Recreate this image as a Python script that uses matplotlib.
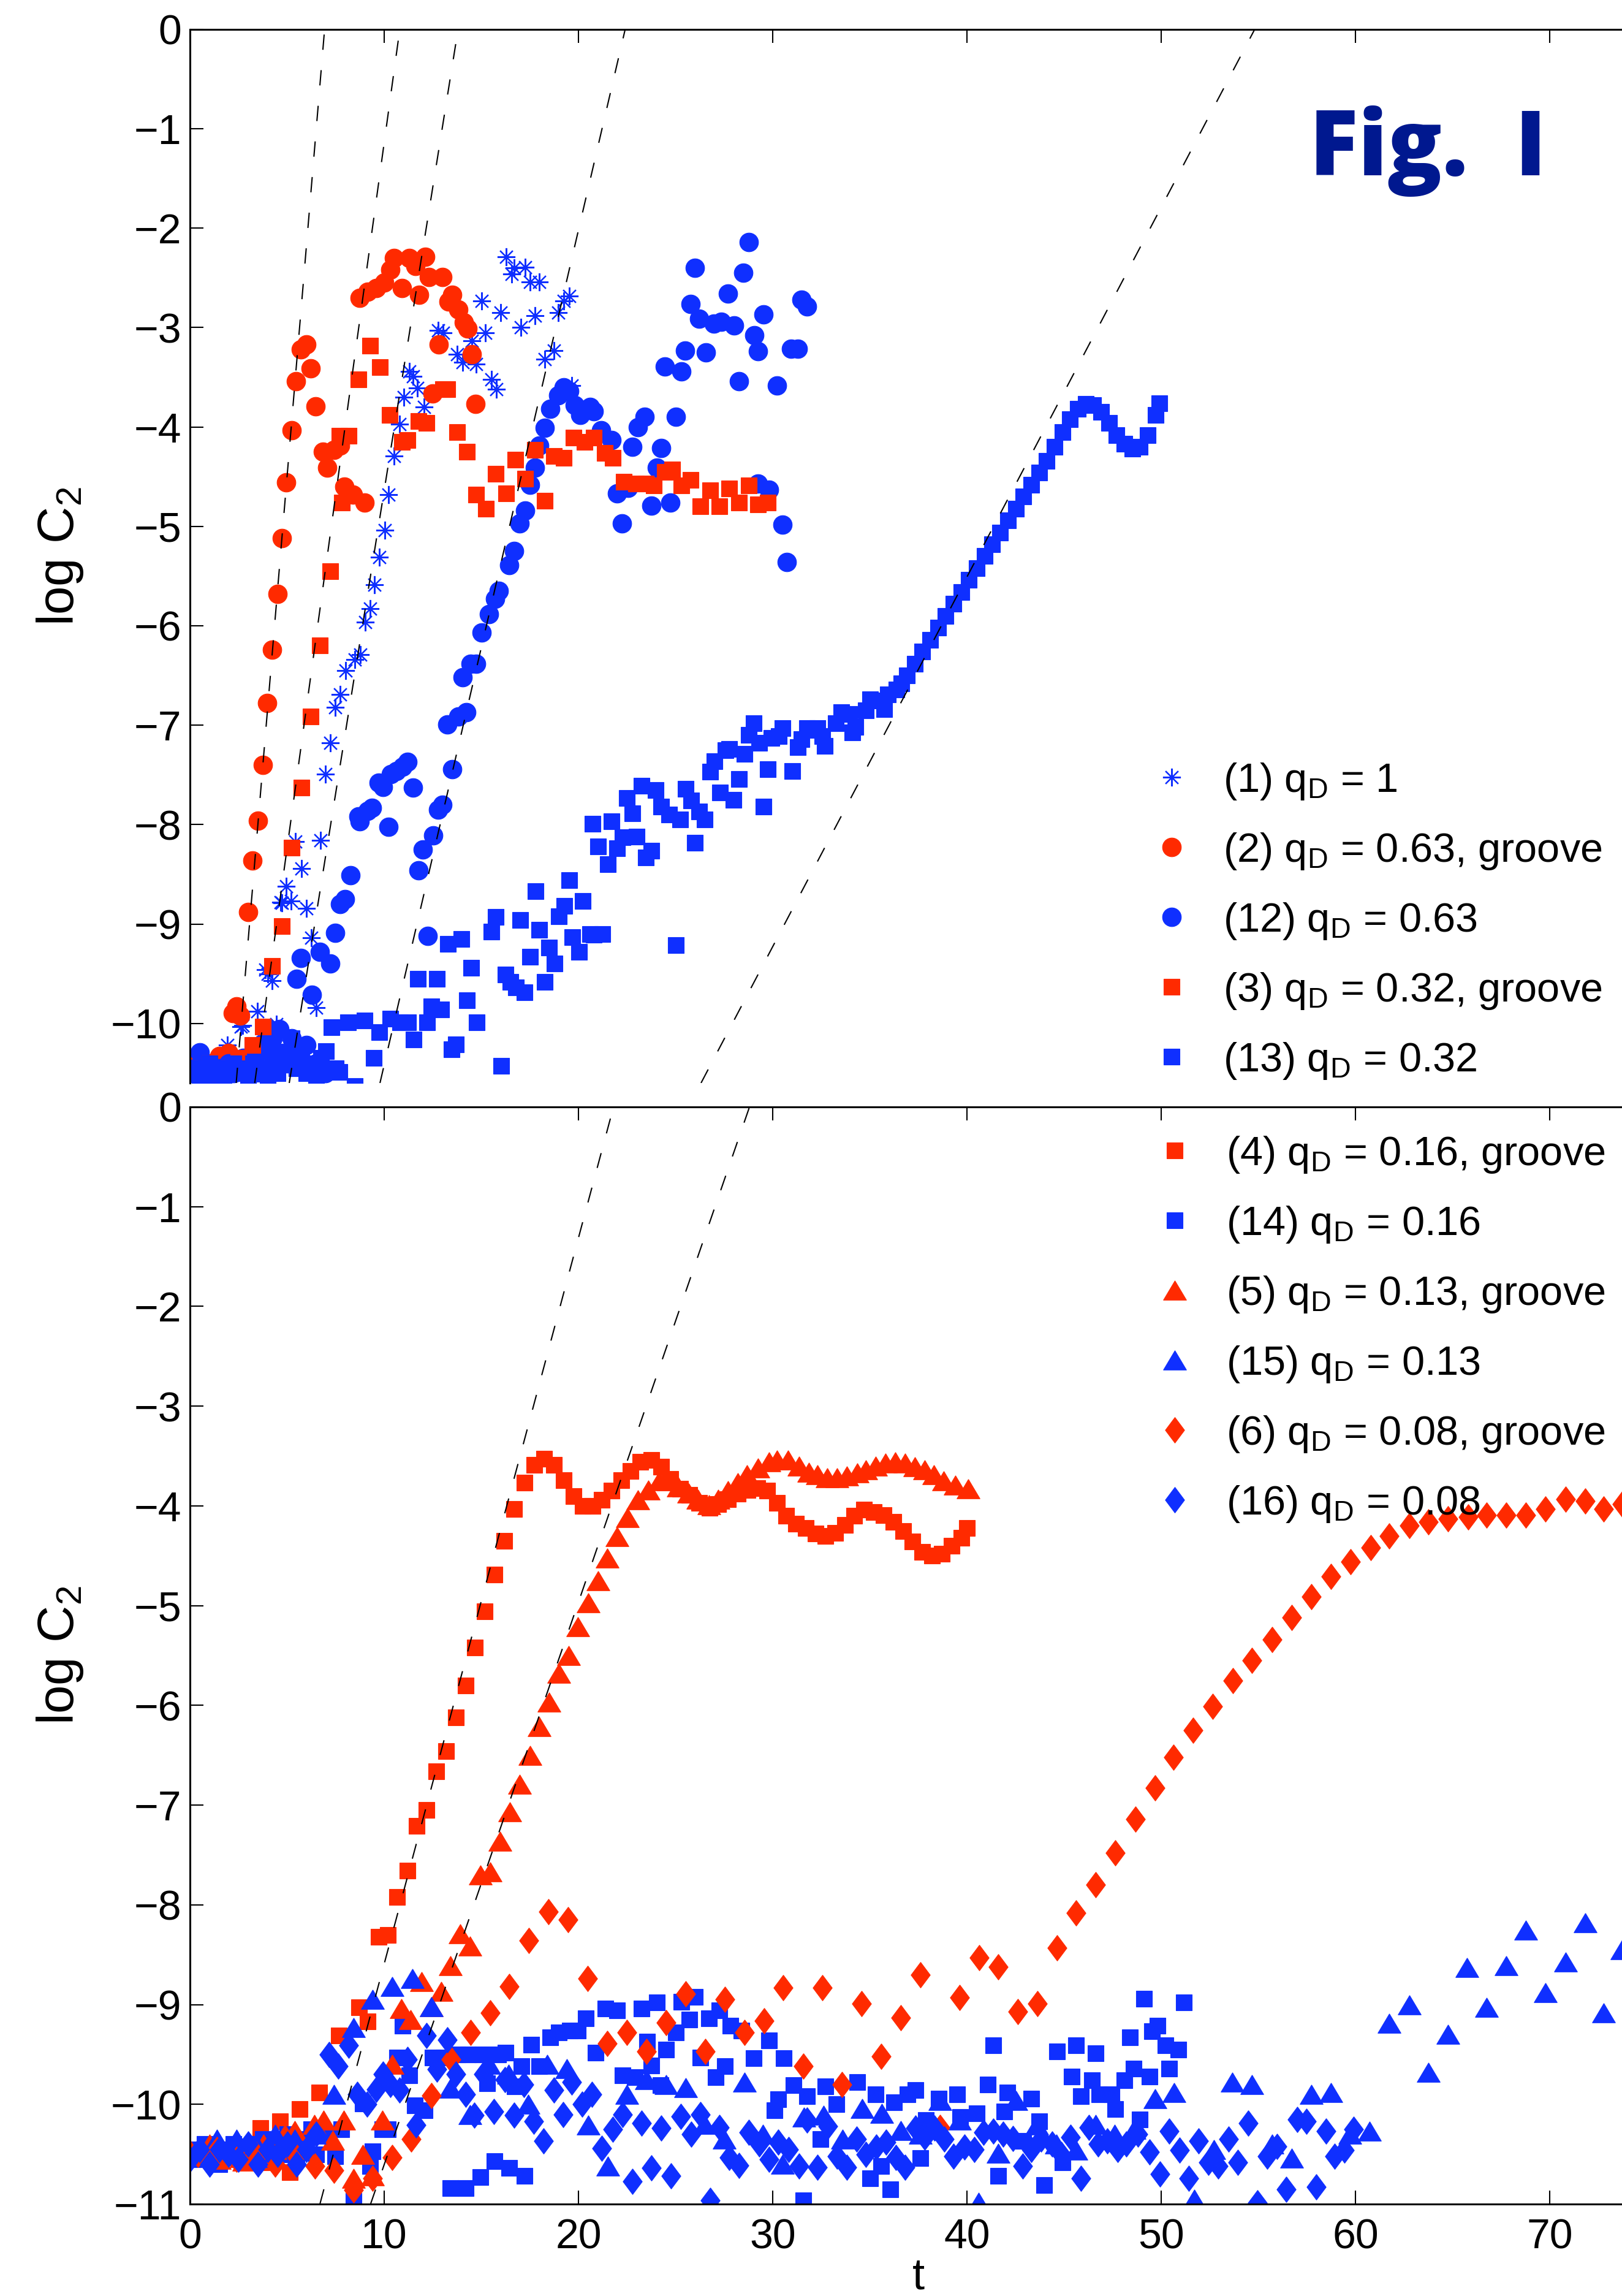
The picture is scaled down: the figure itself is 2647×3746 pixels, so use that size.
import matplotlib
matplotlib.use('Agg')
import matplotlib.pyplot as plt

plt.rcParams['font.family'] = ['Liberation Sans', 'DejaVu Sans']
plt.rcParams['mathtext.fontset'] = 'custom'
plt.rcParams['mathtext.rm'] = 'Liberation Sans'
plt.rcParams['mathtext.it'] = 'Liberation Sans:italic'
plt.rcParams['lines.scale_dashes'] = False

RED = '#FF2A00'
BLUE = '#0F2FFF'
NAVY = '#00188F'

# ---------------- top panel data ----------------
# (1) q_D = 1  (blue asterisks)
t1 = [0.5, 1.0, 1.5, 1.91, 2.3, 2.61, 2.71, 3.18, 3.46, 3.87, 4.02, 4.22, 4.45, 4.68, 4.73, 4.95, 5.22,
      5.43, 5.74, 5.99, 6.25, 6.49, 6.73, 6.98, 7.21, 7.46, 7.74, 8.02, 8.47, 8.76, 9.01, 9.26, 9.49, 9.74,
      10.02, 10.22, 10.5, 10.78, 11.01, 11.29, 11.49, 11.71, 12.05, 12.76, 13.04, 13.74, 14.02, 14.5, 14.73,
      15.01, 15.2, 15.52, 15.77, 15.99, 16.28, 16.56, 16.7, 17.04, 17.26, 17.49, 17.77, 17.97, 18.25, 18.73,
      18.95, 19.23, 19.52, 19.66]
y1 = [-10.45, -10.4, -10.5, -10.22, -10.35, -10.03, -10.02, -10.58, -9.88, -9.46, -9.5, -9.57, -10.01, -8.78, -8.79,
      -8.62, -8.77, -8.17, -8.44, -8.84, -9.14, -9.84, -8.16, -7.49, -7.18, -6.82, -6.69, -6.45, -6.34, -6.29, -5.96,
      -5.83, -5.59, -5.31, -5.04, -4.68, -4.29, -3.97, -3.70, -3.44, -3.49, -3.61, -3.80, -3.03, -3.05, -3.27,
      -3.35, -3.13, -3.37, -2.73, -3.05, -3.52, -3.62, -2.85, -2.29, -2.46, -2.40, -3.0, -2.39, -2.54, -2.88,
      -2.54, -3.32, -3.23, -2.85, -2.73, -2.68, -3.58]

# (2) q_D = 0.63, groove  (red circles)
t2 = [0.0, 0.25, 0.5, 0.75, 1.0, 1.25, 1.5, 1.75, 2.0, 2.2, 2.4, 2.6, 3.0, 3.23, 3.51, 3.76, 3.97, 4.23, 4.5,
      4.73, 4.95, 5.24, 5.46, 5.71, 6.0, 6.21, 6.47, 6.84, 7.05, 7.4, 7.74, 7.96, 8.39, 9.0, 8.73, 9.15, 9.6,
      10.0, 10.3, 10.5, 10.9, 11.3, 11.6, 11.8, 12.1, 12.3, 13.0, 13.3, 13.5, 13.8, 14.1, 14.3, 12.8, 14.5,
      12.5, 14.7]
y2 = [-10.42, -10.5, -10.38, -10.45, -10.4, -10.5, -10.33, -10.45, -10.3, -9.9, -9.83, -9.92, -8.88, -8.36, -7.96,
      -7.40, -6.78, -6.24, -5.68, -5.12, -4.56, -4.03, -3.54, -3.22, -3.17, -3.41, -3.79, -4.25, -4.41, -4.23,
      -4.19, -4.6, -4.68, -4.76, -2.70, -2.64, -2.6, -2.55, -2.42, -2.30, -2.6, -2.3, -2.38, -2.67, -2.29, -2.49,
      -2.49, -2.74, -2.67, -2.82, -2.95, -3.01, -3.17, -3.27, -3.66, -3.77]

# (12) q_D = 0.63  (blue circles)
t12 = [0.0, 0.25, 0.5, 0.75, 1.0, 1.25, 1.5, 1.75, 2.0, 2.25, 2.5, 2.75, 3.0, 3.25, 3.5, 3.75, 4.02, 4.25, 4.45,
       4.59, 4.8, 5.0, 5.25, 5.49, 5.57, 5.71, 6.0, 6.28, 6.5, 6.7, 6.98, 7.21, 7.46, 7.74, 7.97, 8.25, 8.67,
       8.73, 9.15, 9.38, 9.71, 9.94, 10.22, 10.36, 10.64, 10.93, 11.21, 11.49, 11.77, 12.0, 12.25, 12.53, 12.76,
       12.98, 13.26, 13.49, 13.83, 14.02, 14.22, 14.45, 14.73, 15.01, 15.38, 15.71, 15.91, 16.42, 16.7, 16.98,
       17.26, 17.49, 17.77, 17.97, 18.25, 18.53, 18.95, 19.23, 19.52, 19.8, 20.08, 20.59, 20.78, 21.15, 21.71,
       21.99, 22.25, 22.56, 22.76, 23.04, 23.4, 23.74, 24.02, 24.25, 24.45, 24.73, 25.01, 25.29, 25.49, 25.77,
       25.99, 26.22, 26.56, 26.98, 27.35, 27.69, 28.02, 28.25, 28.47, 28.76, 29.04, 29.24, 29.24, 29.52, 29.8,
       30.22, 30.5, 30.73, 30.93, 31.29, 31.49, 31.77]
y12 = [-10.5, -10.45, -10.29, -10.5, -10.45, -10.55, -10.45, -10.5, -10.4, -10.5, -10.45, -10.35, -10.4, -10.5,
       -10.3, -10.2, -10.06, -10.15, -10.29, -10.06, -10.3, -10.4, -10.15, -9.55, -10.24, -9.34, -10.22, -9.71,
       -10.4, -9.28, -10.5, -9.40, -9.09, -8.80, -8.75, -8.51, -7.92, -7.97, -7.86, -7.83, -7.58, -7.62, -8.02,
       -7.49, -7.46, -7.42, -7.37, -7.63, -8.46, -8.25, -9.12, -8.11, -7.85, -7.80, -6.99, -7.44, -6.91, -6.52,
       -6.87, -6.38, -6.38, -6.07, -5.88, -5.73, -5.65, -5.39, -5.25, -4.97, -4.84, -4.58, -4.41, -4.19, -4.01,
       -3.82, -3.68, -3.60, -3.64, -3.78, -3.88, -3.80, -3.84, -4.03, -4.13, -4.67, -4.97, -4.61, -4.2, -4.0, -3.9,
       -4.79, -4.41, -4.21, -3.39, -4.76, -3.9, -3.44, -3.23, -2.76, -2.40, -2.91, -3.25, -2.96, -2.94, -2.66,
       -2.98, -3.54, -2.45, -2.14, -3.08, -3.24, -4.57, -2.87, -4.63, -3.58, -4.98, -5.36, -3.21, -3.21, -2.72,
       -2.79]

# (3) q_D = 0.32, groove  (red squares)
t3 = [0.0, 0.5, 1.0, 1.5, 2.0, 2.5, 3.23, 3.74, 4.22, 4.73, 5.23, 5.74, 6.22, 6.7, 7.21, 7.69, 7.83, 8.16, 8.67,
      9.26, 9.77, 10.28, 10.92, 11.21, 11.77, 12.19, 13.04, 13.26, 13.74, 14.25, 14.73, 15.23, 15.74, 16.28,
      16.76, 17.26, 17.77, 18.25, 18.73, 19.23, 19.74, 20.3, 20.78, 21.35, 21.77, 22.33, 22.95, 23.46, 23.88,
      24.45, 24.81, 25.29, 25.77, 26.28, 26.78, 27.26, 27.74, 28.25, 28.76, 29.24, 29.74]
y3 = [-10.45, -10.5, -10.4, -10.5, -10.45, -10.35, -10.22, -10.03, -9.42, -9.02, -8.23, -7.63, -6.91, -6.2, -5.45,
      -4.09, -4.76, -4.09, -3.52, -3.18, -3.40, -3.88, -4.15, -4.13, -3.94, -3.96, -3.62, -3.62, -4.05, -4.25,
      -4.68, -4.82, -4.47, -4.67, -4.33, -4.52, -4.23, -4.74, -4.29, -4.31, -4.11, -4.15, -4.11, -4.26, -4.31,
      -4.55, -4.57, -4.57, -4.59, -4.45, -4.43, -4.59, -4.53, -4.80, -4.64, -4.80, -4.62, -4.76, -4.59, -4.78,
      -4.76]

# (13) q_D = 0.32  (blue squares)
t13 = [0.0, 0.25, 0.5, 0.75, 1.0, 1.25, 1.5, 1.75, 2.0, 2.25, 2.5, 2.75, 3.0, 3.25, 3.5, 3.75, 4.0, 4.25, 4.5,
       4.75, 5.0, 5.25, 5.5, 5.75, 6.0, 6.25, 6.5, 6.75, 7.01, 7.29, 7.5, 7.71, 8.13, 8.48, 8.98, 9.47, 9.75,
       10.32, 10.81, 11.23, 11.51, 11.72, 12.22, 12.43, 12.71, 12.92, 13.27, 13.48, 13.69, 13.98, 14.26, 14.47,
       14.75, 15.52, 15.74, 16.02, 16.23, 16.51, 16.79, 17.0, 17.21, 17.5, 17.78, 17.99, 18.27, 18.48, 18.76,
       18.98, 19.26, 19.53, 19.68, 20.03, 20.23, 20.58, 20.72, 20.8, 21.0, 21.23, 21.5, 21.71, 21.99, 22.27,
       22.48, 22.76, 22.98, 23.26, 23.47, 23.75, 23.96, 24.24, 24.66, 25.02, 25.23, 25.51, 25.79, 26.0, 26.21,
       26.5, 26.78, 26.99, 27.27, 27.55, 27.76, 27.97, 28.26, 28.54, 28.75, 29.03, 29.31, 29.52, 29.73, 29.94,
       30.3, 30.51, 30.99, 31.28, 31.49, 31.77, 31.99, 32.31, 32.55, 32.69, 33.25, 33.53, 33.94, 34.08, 34.24,
       34.8, 35.01, 35.57, 35.72, 35.93, 36.38, 36.63, 36.9, 37.3, 37.7, 38.1, 38.5, 38.9, 39.3, 39.7, 40.1,
       40.5, 40.9, 41.3, 41.7, 42.1, 42.5, 42.9, 43.3, 43.7, 44.1, 44.5, 44.9, 45.3, 45.7, 46.1, 46.5, 46.9,
       47.3, 47.7, 48.1, 48.5, 48.9, 49.3, 49.7, 49.9]
y13 = [-10.5, -10.45, -10.55, -10.5, -10.4, -10.5, -10.45, -10.55, -10.5, -10.4, -10.5, -10.45, -10.55, -10.4,
       -10.5, -10.45, -10.55, -10.35, -10.5, -10.4, -10.3, -10.15, -10.45, -10.3, -10.5, -10.4, -10.55, -10.35,
       -10.28, -10.04, -10.45, -10.49, -9.99, -10.63, -9.97, -10.35, -10.09, -9.95, -9.99, -9.99, -10.16, -9.55,
       -9.99, -9.83, -9.55, -9.86, -9.2, -10.26, -10.21, -9.15, -9.77, -9.44, -9.99, -9.08, -8.93, -10.43, -9.51,
       -9.58, -9.64, -8.96, -9.69, -9.33, -8.67, -9.06, -9.58, -9.24, -9.40, -8.92, -8.82, -8.56, -9.13, -9.28,
       -8.77, -9.1, -7.99, -9.11, -8.22, -9.1, -8.4, -7.97, -8.24, -8.13, -7.73, -7.89, -8.12, -7.61, -8.33, -8.26,
       -7.65, -7.82, -7.90, -9.21, -7.95, -7.64, -7.76, -8.18, -7.87, -7.95, -7.47, -7.36, -7.68, -7.25, -7.24,
       -7.75, -7.54, -7.29, -7.1, -6.98, -7.18, -7.82, -7.44, -7.13, -7.11, -7.03, -7.46, -7.22, -7.14, -7.03,
       -7.05, -7.03, -7.11, -7.21, -6.98, -6.87, -6.89, -7.07, -7.02, -6.85, -6.74, -6.75, -6.84, -6.69, -6.64,
       -6.58, -6.50, -6.38, -6.26, -6.14, -6.02, -5.90, -5.78, -5.66, -5.54, -5.42, -5.30, -5.18, -5.06, -4.94,
       -4.82, -4.70, -4.58, -4.46, -4.34, -4.20, -4.05, -3.92, -3.82, -3.77, -3.78, -3.85, -3.96, -4.08, -4.17,
       -4.22, -4.20, -4.08, -3.88, -3.76]

# dashed exponential-growth fits: log C2 = slope * (t - t_zero)
top_fit_tzero = [6.93, 10.8, 13.8, 22.4, 54.8]
top_fit_slope = [2.33, 1.42, 1.22, 0.84, 0.372]

# ---------------- bottom panel data ----------------
# (4) q_D = 0.16, groove  (red squares)
t4 = [0.0, 0.5, 1.0, 1.5, 2.0, 2.5, 3.0, 3.63, 4.13, 4.64, 5.15, 5.64, 6.65, 7.68, 8.7, 9.16, 9.71, 10.18, 10.67,
      11.19, 11.66, 12.17, 12.67, 13.18, 13.68, 14.19, 14.67, 15.18, 15.69, 16.19, 16.7, 17.21, 17.71, 18.22,
      18.73, 19.23, 19.74, 20.22, 20.73, 21.21, 21.71, 22.19, 22.67, 23.18, 23.74, 24.25, 24.73, 25.24, 25.71,
      26.22, 26.73, 27.2, 27.7, 28.2, 28.7, 29.2, 29.7, 30.2, 30.7, 31.2, 31.7, 32.2, 32.7, 33.2, 33.7, 34.2,
      34.7, 35.2, 35.7, 36.2, 36.7, 37.2, 37.7, 38.2, 38.7, 39.2, 39.7, 40.0]
y4 = [-10.5, -10.45, -10.42, -10.5, -10.45, -10.55, -10.45, -10.24, -10.58, -10.17, -10.68, -10.05, -9.88, -9.31,
      -9.03, -9.17, -8.32, -8.30, -7.92, -7.66, -7.21, -7.05, -6.66, -6.46, -6.12, -5.80, -5.42, -5.06, -4.69,
      -4.35, -4.03, -3.77, -3.59, -3.53, -3.59, -3.74, -3.90, -4.0, -4.0, -3.94, -3.85, -3.74, -3.65, -3.56,
      -3.54, -3.61, -3.73, -3.83, -3.89, -3.97, -4.02, -3.98, -3.93, -3.88, -3.84, -3.82, -3.85, -3.97, -4.1,
      -4.18, -4.22, -4.28, -4.3, -4.27, -4.19, -4.1, -4.04, -4.06, -4.09, -4.16, -4.25, -4.36, -4.46, -4.5,
      -4.48, -4.4, -4.32, -4.22]

# (14) q_D = 0.16  (blue squares)
t14 = [0.0, 0.25, 0.5, 0.75, 1.0, 1.25, 1.5, 1.75, 2.0, 2.25, 2.5, 2.75, 3.0, 3.25, 3.5, 3.75, 4.0, 4.25, 4.5,
       4.75, 5.0, 5.25, 5.5, 5.75, 6.0, 6.25, 6.5, 6.75, 7.12, 7.46, 7.8, 8.42, 8.9, 9.26, 9.4, 9.89, 10.2, 10.67,
       10.95, 11.3, 11.58, 12.08, 12.5, 13.06, 13.41, 13.77, 14.19, 14.33, 14.96, 15.03, 15.31, 15.67, 15.88,
       16.23, 16.44, 16.72, 17.07, 17.21, 17.57, 17.99, 18.55, 18.98, 19.54, 19.96, 20.38, 20.88, 21.37, 21.98,
       22.26, 22.9, 23.25, 23.53, 23.74, 24.02, 24.23, 24.52, 25.01, 25.29, 25.71, 26.0, 26.28, 26.7, 27.05,
       27.26, 27.54, 27.82, 28.39, 29.02, 29.8, 30.08, 30.29, 30.57, 31.06, 31.56, 31.77, 32.45, 32.72, 33.26,
       34.35, 35.02, 35.29, 35.57, 36.06, 36.24, 36.92, 37.33, 37.6, 37.89, 38.55, 39.5, 39.65, 40.5, 41.07,
       41.34, 41.61, 41.93, 42.07, 42.88, 43.29, 43.7, 43.97, 44.64, 44.92, 45.38, 45.59, 45.86, 46.41, 46.62,
       46.81, 47.44, 47.63, 48.11, 48.39, 48.57, 48.9, 49.12, 49.39, 49.52, 49.79, 50.2, 50.39, 50.88, 51.15]
y14 = [-10.5, -10.45, -10.55, -10.4, -10.5, -10.45, -10.6, -10.45, -10.5, -10.4, -10.5, -10.45, -10.55, -10.4,
       -10.5, -10.35, -10.45, -10.55, -10.4, -10.5, -10.3, -10.45, -10.5, -10.35, -10.4, -10.25, -10.5, -10.3,
       -10.31, -10.52, -10.25, -10.97, -9.99, -10.62, -10.47, -10.25, -10.25, -9.53, -9.21, -9.71, -10.01,
       -10.06, -9.53, -9.53, -10.84, -9.5, -10.84, -9.5, -10.73, -9.5, -9.79, -10.57, -9.5, -9.48, -10.64, -9.82,
       -9.62, -10.72, -9.4, -9.62, -9.33, -9.28, -9.26, -9.26, -9.14, -9.48, -9.04, -9.06, -9.71, -9.73, -9.04,
       -9.37, -9.61, -8.98, -9.81, -9.45, -9.28, -8.97, -9.15, -8.92, -9.53, -9.14, -9.73, -9.06, -9.62, -9.21,
       -9.26, -9.54, -9.36, -10.06, -9.95, -9.54, -9.81, -10.96, -9.92, -10.35, -9.82, -10.0, -9.78, -10.74,
       -9.9, -10.62, -10.85, -9.98, -9.9, -9.86, -10.54, -10.16, -9.94, -9.9, -10.13, -10.09, -9.8, -9.41,
       -10.72, -10.07, -9.88, -10.37, -9.94, -10.17, -10.81, -9.47, -10.58, -9.72, -9.41, -9.92, -9.76, -9.49,
       -9.9, -9.9, -10.05, -9.76, -9.33, -9.64, -10.15, -8.94, -9.72, -9.27, -9.21, -9.41, -9.64, -9.45, -8.98]

# (5) q_D = 0.13, groove  (red triangles)
t5 = [0.0, 0.5, 1.0, 1.5, 2.0, 2.78, 3.3, 3.8, 4.4, 4.9, 5.39, 5.9, 6.4, 6.87, 7.36, 7.92, 8.41, 8.9, 9.4, 9.89,
      10.4, 10.88, 11.37, 11.93, 12.43, 12.92, 13.41, 13.9, 14.4, 14.96, 15.45, 15.95, 16.45, 16.98, 17.49,
      17.97, 18.47, 19.0, 19.5, 19.97, 20.5, 21.01, 21.49, 21.99, 22.53, 23.04, 23.6, 24.16, 24.64, 25.15,
      25.66, 26.14, 26.7, 27.18, 27.69, 28.19, 28.67, 29.24, 29.8, 30.22, 30.78, 31.35, 31.85, 32.31, 32.8,
      33.3, 33.8, 34.35, 34.8, 35.3, 35.8, 36.3, 36.8, 37.3, 37.8, 38.3, 38.8, 39.4, 40.04]
y5 = [-10.45, -10.5, -10.4, -10.55, -10.5, -10.57, -10.5, -10.4, -10.45, -10.3, -10.26, -10.45, -10.2, -10.16,
      -10.36, -10.16, -10.74, -10.5, -10.72, -10.16, -9.6, -9.04, -9.15, -8.77, -9.02, -8.87, -8.61, -8.29, -8.41,
      -7.70, -7.67, -7.36, -7.07, -6.79, -6.50, -6.21, -5.97, -5.68, -5.5, -5.21, -4.97, -4.75, -4.52, -4.31,
      -4.12, -3.94, -3.84, -3.75, -3.75, -3.81, -3.87, -3.93, -3.99, -3.93, -3.85, -3.77, -3.69, -3.62, -3.56,
      -3.54, -3.54, -3.6, -3.66, -3.69, -3.72, -3.72, -3.70, -3.67, -3.64, -3.6, -3.57, -3.56, -3.57, -3.61,
      -3.64, -3.69, -3.75, -3.79, -3.83]

# (15) q_D = 0.13  (blue triangles)
t15 = [0.4, 1.4, 2.4, 3.4, 4.4, 5.4, 6.4, 7.4, 8.41, 9.4, 10.41, 11.44, 12.43, 13.41, 14.4, 15.4, 16.4, 17.4,
       18.4, 19.4, 20.5, 21.5, 22.5, 23.5, 24.5, 25.5, 26.5, 27.5, 28.53, 29.5, 30.5, 31.6, 32.6, 33.6, 34.6,
       35.6, 36.6, 37.6, 38.6, 39.6, 40.6, 41.6, 42.5, 43.6, 44.6, 45.6, 46.6, 47.6, 48.6, 49.66, 50.66, 51.69,
       52.7, 53.64, 54.67, 55.7, 56.7, 57.71, 58.74, 59.7, 60.71, 61.72, 62.75, 63.75, 64.75, 65.73, 66.73,
       67.76, 68.76, 69.77, 70.8, 71.8, 72.77, 73.72]
y15 = [-10.45, -10.35, -10.35, -10.4, -10.3, -10.35, -10.3, -9.9, -9.23, -8.95, -8.82, -8.74, -9.02, -9.84, -10.1,
       -9.6, -9.7, -10.0, -9.6, -9.64, -10.21, -10.62, -9.9, -9.75, -9.8, -9.83, -10.2, -10.35, -9.78, -10.3,
       -10.6, -10.13, -10.11, -10.35, -10.04, -10.09, -10.26, -10.3, -9.96, -10.16, -10.98, -10.49, -9.96,
       -10.21, -10.4, -10.46, -10.2, -10.3, -10.25, -9.94, -9.88, -10.95, -10.45, -9.78, -9.8, -10.4, -10.54,
       -9.9, -9.88, -10.3, -10.27, -9.19, -9.0, -9.68, -9.3, -8.63, -9.03, -8.61, -8.25, -8.88, -8.57, -8.18,
       -9.08, -8.45]

# (6) q_D = 0.08, groove  (red diamonds)
t6 = [0.4, 1.4, 2.4, 3.4, 4.4, 5.4, 6.42, 7.4, 8.41, 9.4, 10.41, 11.4, 12.43, 13.44, 14.44, 15.45, 16.44, 17.45,
      18.45, 19.47, 20.48, 21.47, 22.5, 23.5, 24.52, 25.52, 26.53, 27.53, 28.53, 29.54, 30.54, 31.56, 32.56,
      33.57, 34.57, 35.58, 36.58, 37.6, 38.6, 39.6, 40.61, 41.61, 42.62, 43.62, 44.62, 45.59, 46.62, 47.63,
      48.66, 49.66, 50.63, 51.64, 52.64, 53.67, 54.67, 55.7, 56.7, 57.71, 58.74, 59.74, 60.77, 61.72, 62.75,
      63.75, 64.75, 65.78, 66.73, 67.76, 68.76, 69.77, 70.8, 71.8, 72.77, 73.7, 74.7]
y6 = [-10.5, -10.45, -10.55, -10.5, -10.6, -10.5, -10.62, -10.66, -10.86, -10.74, -10.53, -10.35, -9.91, -9.55,
      -9.28, -9.08, -8.82, -8.36, -8.07, -8.15, -8.74, -9.39, -9.28, -9.47, -9.18, -8.89, -9.47, -8.95, -9.28,
      -9.16, -8.83, -9.62, -8.83, -9.8, -8.99, -9.52, -9.13, -8.70, -10.23, -8.93, -8.53, -8.62, -9.07, -8.99,
      -8.43, -8.08, -7.8, -7.48, -7.14, -6.83, -6.52, -6.25, -6.01, -5.75, -5.55, -5.34, -5.12, -4.91, -4.71,
      -4.56, -4.42, -4.30, -4.20, -4.16, -4.13, -4.11, -4.09, -4.09, -4.09, -4.03, -3.93, -3.95, -4.03, -3.98,
      -3.95]

# (16) q_D = 0.08  (blue diamonds)
t16 = [0.0, 0.5, 1.0, 1.5, 2.0, 2.5, 3.0, 3.5, 4.0, 4.5, 5.0, 5.5, 6.0, 6.5, 7.15, 7.64, 8.16, 8.6, 9.1, 9.6,
       9.94, 10.3, 10.78, 11.2, 11.63, 12.19, 12.7, 13.26, 13.7, 14.2, 14.64, 15.1, 15.63, 16.2, 16.7, 17.2,
       17.69, 18.19, 18.73, 19.2, 19.66, 20.2, 20.7, 21.21, 21.77, 22.26, 22.76, 23.25, 23.74, 24.26, 24.75,
       25.26, 25.8, 26.28, 26.77, 27.26, 27.75, 28.27, 28.77, 29.3, 29.8, 30.29, 30.8, 31.34, 31.77, 32.3,
       32.82, 33.32, 33.81, 34.3, 34.79, 35.31, 35.82, 36.34, 36.81, 37.33, 37.82, 38.31, 38.81, 39.3, 39.86,
       40.36, 40.85, 41.34, 41.85, 42.36, 42.85, 43.31, 43.8, 44.37, 44.85, 45.32, 45.86, 46.27, 46.75, 47.22,
       47.75, 48.2, 48.8, 49.39, 49.93, 50.39, 50.93, 51.42, 51.91, 52.42, 52.91, 53.45, 53.94, 54.46, 54.94,
       55.43, 55.95, 56.43, 56.98, 57.46, 57.98, 58.47, 58.93, 59.41, 59.9]
y16 = [-10.55, -10.45, -10.6, -10.45, -10.5, -10.55, -10.4, -10.6, -10.45, -10.5, -10.4, -10.6, -10.45, -10.3,
       -9.5, -9.62, -9.41, -9.9, -10.0, -9.85, -9.7, -9.8, -9.86, -9.55, -10.21, -9.31, -9.65, -9.35, -9.7, -9.9,
       -10.11, -9.7, -10.07, -9.75, -10.11, -9.8, -10.17, -10.37, -9.86, -10.1, -9.78, -10.0, -9.9, -10.44,
       -10.25, -10.1, -10.77, -10.19, -10.64, -10.24, -10.72, -10.12, -10.3, -10.1, -10.96, -10.23, -10.53,
       -10.61, -10.28, -10.4, -10.55, -10.38, -10.45, -10.62, -10.16, -10.63, -10.22, -10.52, -10.63, -10.35,
       -10.5, -10.43, -10.38, -10.53, -10.63, -10.24, -10.33, -10.24, -10.35, -10.52, -10.43, -10.45, -10.28,
       -10.27, -10.3, -10.34, -10.62, -10.45, -10.35, -10.4, -10.5, -10.33, -10.74, -10.23, -10.4, -10.37, -10.45,
       -10.4, -10.3, -10.48, -10.7, -10.27, -10.46, -10.74, -10.37, -10.58, -10.62, -10.35, -10.58, -10.19,
       -10.99, -10.52, -10.42, -10.85, -10.15, -10.17, -10.83, -10.27, -10.52, -10.46, -10.25]

bot_fit_tzero = [21.8, 28.8]
bot_fit_slope = [0.728, 0.564]

top_labels = ['(1) q$_\\mathrm{D}$ = 1', '(2) q$_\\mathrm{D}$ = 0.63, groove', '(12) q$_\\mathrm{D}$ = 0.63',
              '(3) q$_\\mathrm{D}$ = 0.32, groove', '(13) q$_\\mathrm{D}$ = 0.32']
bot_labels = ['(4) q$_\\mathrm{D}$ = 0.16, groove', '(14) q$_\\mathrm{D}$ = 0.16',
              '(5) q$_\\mathrm{D}$ = 0.13, groove', '(15) q$_\\mathrm{D}$ = 0.13',
              '(6) q$_\\mathrm{D}$ = 0.08, groove', '(16) q$_\\mathrm{D}$ = 0.08']

# marker shapes (MATLAB-like)
tri = [(0, 0.84), (-1, -0.84), (1, -0.84), (0, 0.84)]
dia = [(0, 1), (0.75, 0), (0, -1), (-0.75, 0), (0, 1)]
star = (8, 2, 0)

fig = plt.figure(figsize=(26.47, 37.46), dpi=100)
ax1 = fig.add_axes([0.1171, 0.5283, 0.8984, 0.4589])
ax2 = fig.add_axes([0.1171, 0.04004, 0.8984, 0.47785])


def pts(ax, t, y, marker, color, ms, label):
    if marker == star:
        h, = ax.plot(t, y, linestyle='none', marker=marker, ms=ms, mec=color, mew=1.6, label=label)
    else:
        h, = ax.plot(t, y, linestyle='none', marker=marker, ms=ms, mfc=color, mec=color, mew=0.8, label=label)
    return h


h_top = [pts(ax1, t1, y1, star, BLUE, 21, top_labels[0]),
         pts(ax1, t2, y2, 'o', RED, 22, top_labels[1]),
         pts(ax1, t12, y12, 'o', BLUE, 22, top_labels[2]),
         pts(ax1, t3, y3, 's', RED, 19, top_labels[3]),
         pts(ax1, t13, y13, 's', BLUE, 19, top_labels[4])]

h_bot = [pts(ax2, t4, y4, 's', RED, 19, bot_labels[0]),
         pts(ax2, t14, y14, 's', BLUE, 19, bot_labels[1]),
         pts(ax2, t5, y5, tri, RED, 27, bot_labels[2]),
         pts(ax2, t15, y15, tri, BLUE, 27, bot_labels[3]),
         pts(ax2, t6, y6, dia, RED, 30, bot_labels[4]),
         pts(ax2, t16, y16, dia, BLUE, 30, bot_labels[5])]

ymin_top, ymin_bot = -10.6, -11.0
for t0, s in zip(top_fit_tzero, top_fit_slope):
    ax1.plot([t0 + ymin_top / s, t0], [ymin_top, 0], color='black', lw=1.5,
             linestyle=(0, (18, 24)), zorder=3)
for t0, s in zip(bot_fit_tzero, bot_fit_slope):
    ax2.plot([t0 + ymin_bot / s, t0], [ymin_bot, 0], color='black', lw=1.5,
             linestyle=(0, (18, 24)), zorder=3)

for ax, yticks in ((ax1, range(-10, 1)), (ax2, range(-11, 1))):
    ax.set_xlim(0, 75)
    ax.set_xticks(range(0, 80, 10))
    ax.set_yticks(list(yticks))
    for sp in ax.spines.values():
        sp.set_linewidth(2.2)
    ax.tick_params(direction='in', length=16, width=1.5, labelsize=49, pad=10)
    ax.set_ylabel('log C$_2$', fontsize=60)
    ax.yaxis.set_label_coords(-0.072, 0.5)
ax1.set_ylim(ymin_top, 0)
ax2.set_ylim(ymin_bot, 0)

ax1.spines['bottom'].set_visible(False)
ax1.tick_params(axis='x', bottom=False, top=True, labelbottom=False)
ax2.tick_params(axis='x', bottom=True, top=True, pad=16)
ax2.set_xlabel('t', fontsize=52, labelpad=0)

leg_kw = dict(bbox_transform=fig.transFigure, loc='upper left', frameon=False, fontsize=48,
              handlelength=1.0, handletextpad=0.76, borderpad=0, borderaxespad=0,
              labelspacing=0.72, numpoints=1)
ax1.legend(handles=h_top, bbox_to_anchor=(0.7099, 0.6685), **leg_kw)
ax2.legend(handles=h_bot, bbox_to_anchor=(0.7118, 0.5060), **leg_kw)

fig.text(0.8073, 0.9237, 'Fig.  I', fontsize=106, fontweight='extra bold', family=['Open Sans', 'DejaVu Sans'],
         color=NAVY, ha='left', va='baseline')

fig.savefig('out.png', dpi=100)
